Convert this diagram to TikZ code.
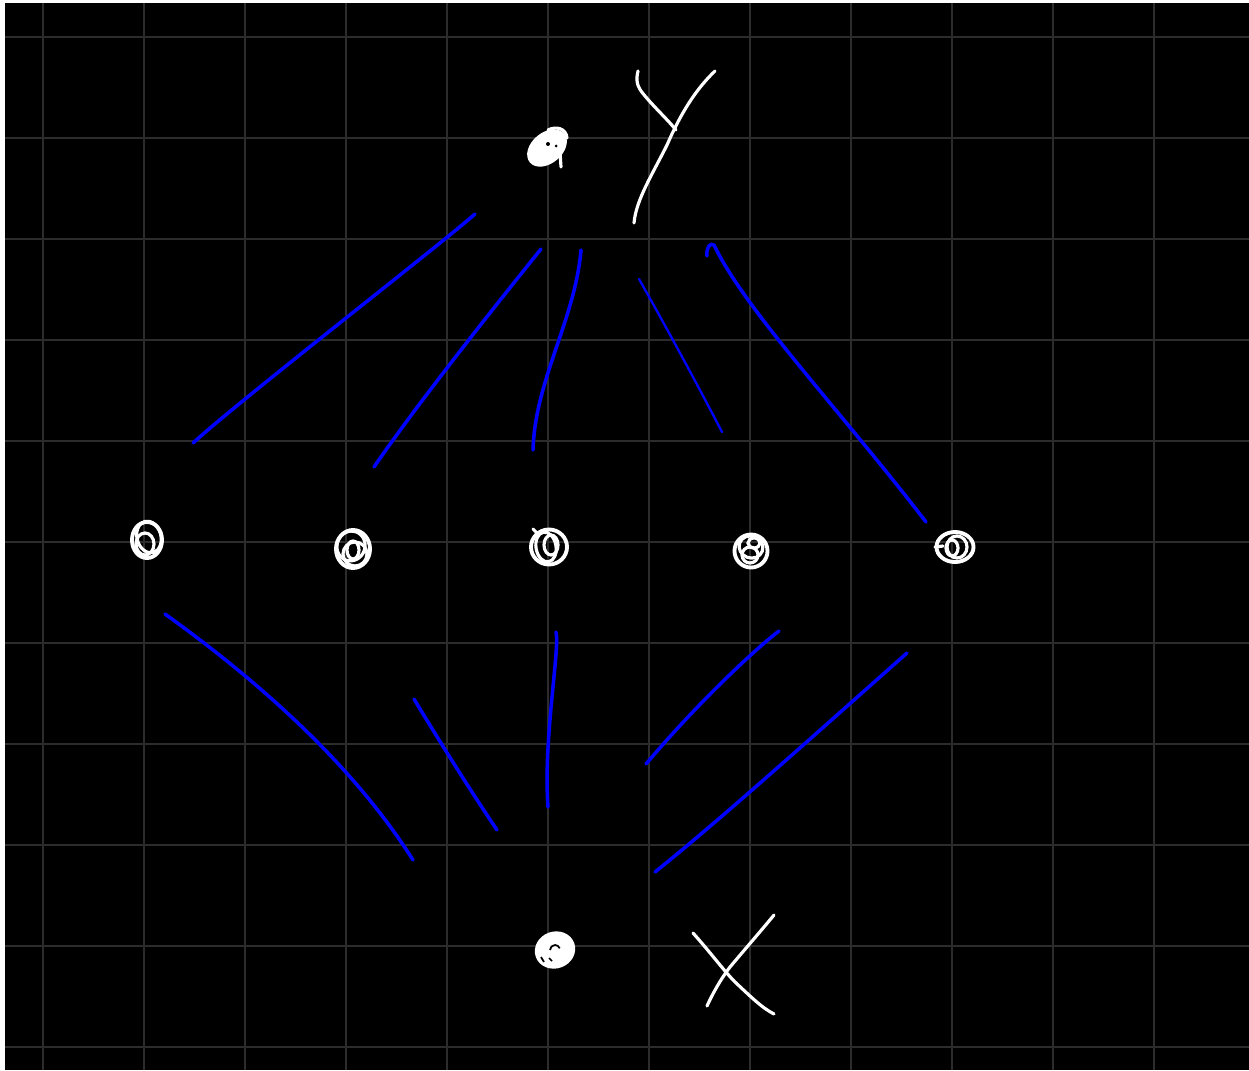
\documentclass[tikz,border=0pt]{standalone}
\usetikzlibrary{shapes.geometric}
\definecolor{gridc}{RGB}{44,44,44}
\definecolor{pen}{RGB}{0,0,255}
\begin{document}
\begin{tikzpicture}[x=0.01cm,y=-0.01cm,
  edge/.style={draw=pen,line width=1.0pt,line cap=round,line join=round},
  thinedge/.style={draw=pen,line width=0.65pt,line cap=round},
  chalk/.style={draw=white,line width=0.9pt,line cap=round,line join=round},
  scrib/.style={draw=white,line width=0.9pt},
  dot/.style={draw=white,line width=1.1pt,ellipse,inner sep=0pt,minimum width=0.32cm,minimum height=0.35cm},
  blob/.style={fill=white,draw=white,line width=0.8pt,ellipse,inner sep=0pt}]
% background and margins
\fill[black] (0,0) rectangle (1249,1070);
\useasboundingbox (0,0) rectangle (1249,1070);
\fill[white] (0,0) rectangle (5,1070);
\fill[white] (0,0) rectangle (1249,3);
% grid
\foreach \k in {0,...,11} {\draw[gridc,line width=0.45pt] ({43+101*\k},3) -- ({43+101*\k},1070);}
\foreach \k in {0,...,10} {\draw[gridc,line width=0.45pt] (5,{37+101*\k}) -- (1249,{37+101*\k});}

% top node
\node[blob,minimum width=0.42cm,minimum height=0.28cm,rotate=40] (t) at (547,148) {};
\draw[chalk] (560,152) -- (561,167);
\draw[chalk] (548,130) .. controls (556,126) and (566,128) .. (567,138);
\fill[black] (548,144) circle (0.02cm);
\fill[black] (556,146) circle (0.015cm);
% label Y
\draw[chalk] (638,71) .. controls (636,80) and (636,86) .. (645,96) .. controls (655,108) and (668,120) .. (676,130);
\draw[chalk] (715,71) .. controls (695,90) and (680,115) .. (667,145) .. controls (652,175) and (636,200) .. (634,223);

% middle nodes
\node[dot,minimum width=0.30cm,minimum height=0.36cm] (m1) at (147,540) {};
\draw[scrib] (m1) ++(2,-3) circle [x radius=0.12cm, y radius=0.16cm, rotate=15];
\draw[scrib] (m1) ++(-2,4) circle [x radius=0.09cm, y radius=0.11cm];
\node[dot,minimum width=0.34cm,minimum height=0.38cm] (m2) at (353,549) {};
\draw[scrib] (m2) ++(-2,-3) circle [x radius=0.14cm, y radius=0.15cm, rotate=-20];
\draw[scrib] (m2) ++(2,5) circle [x radius=0.12cm, y radius=0.12cm];
\draw[scrib] (m2) ++(0,1) circle [x radius=0.06cm, y radius=0.09cm];
\node[dot,minimum width=0.36cm,minimum height=0.35cm] (m3) at (549,547) {};
\draw[scrib] (m3) ++(-3,0) circle [x radius=0.10cm, y radius=0.15cm, rotate=10];
\draw[scrib] (m3) ++(2,-2) circle [x radius=0.07cm, y radius=0.1cm];
\draw[chalk] (533,529) -- (538,534);
\node[dot,minimum width=0.33cm,minimum height=0.33cm] (m4) at (751,551) {};
\draw[scrib] (m4) ++(0,-4) circle [x radius=0.12cm, y radius=0.11cm, rotate=-20];
\draw[scrib] (m4) ++(-1,4) circle [x radius=0.08cm, y radius=0.08cm];
\draw[scrib] (m4) ++(3,-8) circle [x radius=0.06cm, y radius=0.05cm];
\node[dot,minimum width=0.37cm,minimum height=0.30cm] (m5) at (955,547) {};
\draw[scrib] (m5) ++(2,0) circle [x radius=0.1cm, y radius=0.11cm];
\draw[scrib] (m5) ++(-3,1) circle [x radius=0.06cm, y radius=0.08cm];
\draw[chalk] (935,547) -- (943,546);

% bottom node
\node[blob,minimum width=0.38cm,minimum height=0.34cm,rotate=20] (b) at (555,950) {};
\draw[black,line width=0.5pt] (550,950) arc (180:20:0.05cm);
\draw[black,line width=0.5pt] (541,957) -- (544,962);
\draw[black,line width=0.5pt] (549,958) -- (552,961);
% label X
\draw[chalk] (693,933) .. controls (710,952) and (725,972) .. (735,982) .. controls (750,996) and (762,1008) .. (774,1014);
\draw[chalk] (774,915) .. controls (760,932) and (740,955) .. (730,967) .. controls (720,980) and (712,995) .. (707,1006);

% connectors: top node to middle row
\coordinate (a1s) at (475,214); \coordinate (a1e) at (193,443);
\draw[edge] (a1s) .. controls (440,245) and (240,400) .. (a1e);
\coordinate (a2s) at (541,249); \coordinate (a2e) at (374,467);
\draw[edge] (a2s) .. controls (500,300) and (420,400) .. (a2e);
\coordinate (a3s) at (581,250); \coordinate (a3e) at (533,450);
\draw[edge] (a3s) .. controls (575,320) and (535,380) .. (a3e);
\coordinate (a4s) at (639,279); \coordinate (a4e) at (722,432);
\draw[thinedge] (a4s) .. controls (665,325) and (695,380) .. (a4e);
\coordinate (a5s) at (707,256); \coordinate (a5e) at (926,522);
\draw[edge] (a5s) .. controls (706,248) and (710,242) .. (714,245)
  .. controls (745,310) and (840,410) .. (a5e);

% connectors: middle row to bottom node
\coordinate (c1s) at (165,614); \coordinate (c1e) at (413,860);
\draw[edge] (c1s) .. controls (250,675) and (350,760) .. (c1e);
\coordinate (c2s) at (414,699); \coordinate (c2e) at (497,830);
\draw[edge] (c2s) .. controls (440,742) and (470,790) .. (c2e);
\coordinate (c3s) at (556,632); \coordinate (c3e) at (548,807);
\draw[edge] (c3s) .. controls (560,650) and (543,740) .. (c3e);
\coordinate (c4s) at (779,631); \coordinate (c4e) at (646,764);
\draw[edge] (c4s) .. controls (760,645) and (700,700) .. (c4e);
\coordinate (c5s) at (907,653); \coordinate (c5e) at (655,872);
\draw[edge] (c5s) .. controls (820,730) and (720,820) .. (c5e);
\end{tikzpicture}
\end{document}
